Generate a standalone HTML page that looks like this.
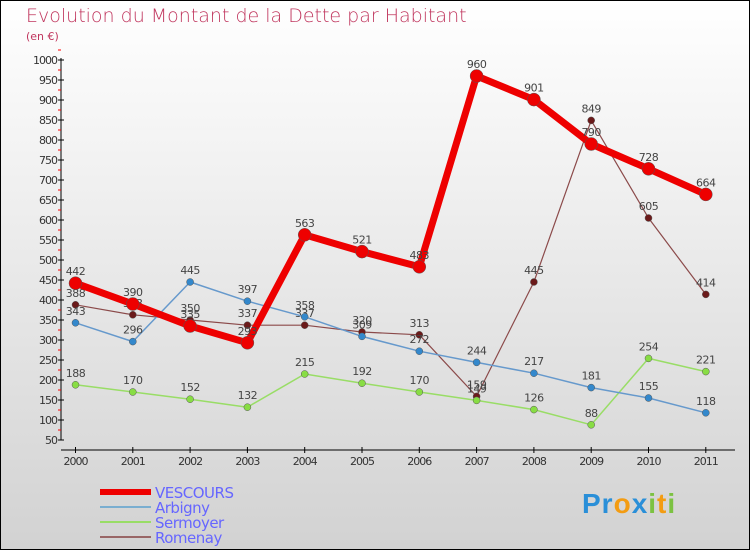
<!DOCTYPE html>
<html><head><meta charset="utf-8"><style>
body{margin:0}
#c{width:750px;height:550px;position:relative;font-family:"DejaVu Sans","Liberation Sans",sans-serif}
</style></head><body>
<div id="c">
<svg id="s" width="750" height="550" xmlns="http://www.w3.org/2000/svg">
<defs><linearGradient id="bg" x1="0" y1="0" x2="0" y2="1"><stop offset="0" stop-color="#ffffff"/><stop offset="1" stop-color="#d2d2d2"/></linearGradient></defs>
<rect x="0.5" y="0.5" width="749" height="549" fill="url(#bg)" stroke="#000"/>
<text x="26" y="22" font-size="19" fill="#c0365e" style="font-weight:200">Evolution du Montant de la Dette par Habitant</text>
<text x="26" y="40" font-size="11" fill="#c0365e">(en €)</text>
<g id="axes"></g><g id="series"></g><g id="legend"></g>
</svg></div>
<script>
const years=["2000","2001","2002","2003","2004","2005","2006","2007","2008","2009","2010","2011"];
const yTicks=[50,100,150,200,250,300,350,400,450,500,550,600,650,700,750,800,850,900,950,1000];
const vescours=[442,390,335,293,563,521,483,960,901,790,728,664];
const arbigny=[343,296,445,397,358,309,272,244,217,181,155,118];
const sermoyer=[188,170,152,132,215,192,170,149,126,88,254,221];
const romenay=[388,363,350,337,337,320,313,159,445,849,605,414];
const NS="http://www.w3.org/2000/svg";
const X=i=>75.5+i*57.3;
const Y=v=>440-(v-50)*0.4;
function mk(t,a,p){const e=document.createElementNS(NS,t);for(const k in a)e.setAttribute(k,a[k]);p.appendChild(e);return e;}
const ax=document.getElementById('axes');
const yl=mk('line',{x1:61,y1:58,x2:61,y2:440,stroke:'#000'},ax);


yTicks.forEach(v=>{
 mk('line',{x1:58,y1:Y(v),x2:64,y2:Y(v),stroke:'#000'},ax);
 mk('line',{x1:58,y1:Y(v+25),x2:61,y2:Y(v+25),stroke:'#f00'},ax);
 const t=mk('text',{x:57,y:Y(v)+4,'font-size':11,'text-anchor':'end',fill:'#333','letter-spacing':'-1'},ax);t.textContent=v;
 
 
});
const xl=mk('line',{x1:61,y1:450,x2:735,y2:450,stroke:'#000'},ax);


years.forEach((y,i)=>{
 mk('line',{x1:X(i),y1:447,x2:X(i),y2:453,stroke:'#000'},ax);
 const t=mk('text',{x:X(i),y:465,'font-size':11,'text-anchor':'middle',fill:'#333','letter-spacing':'-1'},ax);t.textContent=y;
 
 
});
const sg=document.getElementById('series');
function draw(d,col,w,r,dot,name){
 const g=mk('g',{},sg);
 
 
 mk('polyline',{points:d.map((v,i)=>X(i)+','+Y(v)).join(' '),fill:'none',stroke:col,'stroke-width':w,'stroke-linejoin':'round'},g);
 d.forEach((v,i)=>{
  const c=mk('circle',{cx:X(i),cy:Y(v),r:r,fill:dot,stroke:'#555','stroke-width':0.5},g);
  
  
  const t=mk('text',{x:X(i),y:Y(v)-8,'font-size':11,'text-anchor':'middle',fill:'#444','letter-spacing':'-0.5'},g);t.textContent=v;
  
  
 });
}
draw(romenay,'#8b4a4a',1.2,3.5,'#6b1a1a','romenay');
draw(sermoyer,'#99dd66',1.5,3.5,'#88dd44','sermoyer');
draw(arbigny,'#6699cc',1.5,3.5,'#3388cc','arbigny');
draw(vescours,'#ee0000',7,6.5,'#ee0000','vescours');
const lg=document.getElementById('legend');
const items=[["VESCOURS",'#ee0000',6],["Arbigny",'#7aaed0',2],["Sermoyer",'#99dd66',2],["Romenay",'#996666',2]];
items.forEach((it,i)=>{
 const y=492+i*15;
 const g=mk('g',{},lg);
 
 
 mk('rect',{x:100,y:y-it[2]/2,width:51,height:it[2],fill:it[1]},g);
 const t=mk('text',{x:155,y:y+6,'font-size':15,fill:'#6666ff','letter-spacing':'-0.5'},g);t.textContent=it[0];
});
</script>
<div style="position:absolute;left:582px;top:488px;font:bold 28px 'Liberation Sans',sans-serif;letter-spacing:1px"><span style="color:#2a8fd8">Pr</span><span style="color:#f39c12">o</span><span style="color:#2a8fd8">x</span><span style="color:#7cc242">i</span><span style="color:#f39c12">t</span><span style="color:#7cc242">i</span></div>
</body></html>
